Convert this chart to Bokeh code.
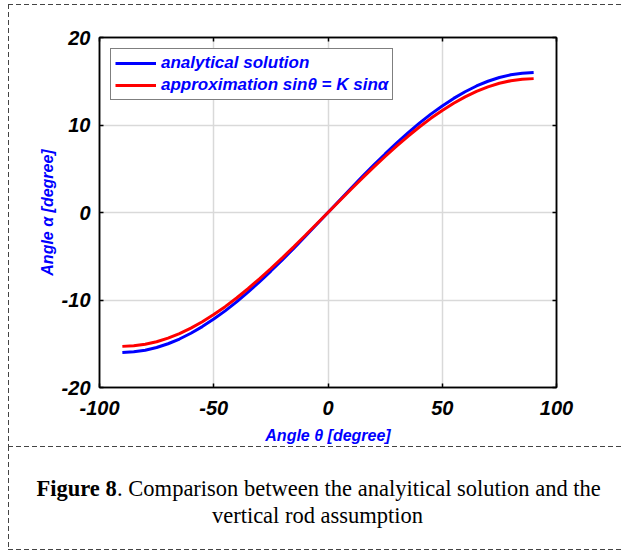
from bokeh.plotting import figure
from bokeh.layouts import column
from bokeh.models import Range1d, FixedTicker, LinearAxis, Label, Legend, LegendItem
from bokeh.embed import file_html
from bokeh.resources import INLINE

# ---- data ----
theta = [-90, -85, -80, -75, -70, -65, -60, -55, -50, -45, -40, -35, -30, -25, -20, -15, -10, -5,
         0, 5, 10, 15, 20, 25, 30, 35, 40, 45, 50, 55, 60, 65, 70, 75, 80, 85, 90]
alpha_analytical = [-15.99, -15.92, -15.74, -15.43, -15.00, -14.46, -13.80, -13.04, -12.18, -11.24,
                    -10.21, -9.10, -7.92, -6.69, -5.41, -4.10, -2.75, -1.38,
                    0.0, 1.38, 2.75, 4.10, 5.41, 6.69, 7.92, 9.10, 10.21, 11.24,
                    12.18, 13.04, 13.80, 14.46, 15.00, 15.43, 15.74, 15.92, 15.99]
alpha_approx = [-15.30, -15.24, -15.06, -14.77, -14.36, -13.84, -13.21, -12.48, -11.66, -10.76,
                -9.77, -8.71, -7.58, -6.40, -5.18, -3.92, -2.63, -1.32,
                0.0, 1.32, 2.63, 3.92, 5.18, 6.40, 7.58, 8.71, 9.77, 10.76,
                11.66, 12.48, 13.21, 13.84, 14.36, 14.77, 15.06, 15.24, 15.30]
x_ticks = [-100, -50, 0, 50, 100]
x_tick_labels = ["-100", "-50", "0", "50", "100"]
y_ticks = [-20, -10, 0, 10, 20]
y_tick_labels = ["-20", "-10", "0", "10", "20"]
legend_labels = ["analytical solution", "approximation sin\u03b8 = K sin\u03b1"]
x_label = "Angle \u03b8 [degree]"
y_label = "Angle \u03b1 [degree]"
caption_bold = "Figure 8"
caption_rest = ". Comparison between the analyitical solution and the"
caption_line2 = "vertical rod assumption"

W = 621
H1, H2 = 446, 106
FL, FR, FT, FB = 99, 65, 37, 57

DASH = "#444444"
def hdash(x, y, length):
    return (f"repeating-linear-gradient(to right, {DASH} 0px, {DASH} 5px, transparent 5px, transparent 8px) "
            f"{x}px {y}px / {length}px 1px no-repeat")
def vdash(x, y, length):
    return (f"repeating-linear-gradient(to bottom, {DASH} 0px, {DASH} 5px, transparent 5px, transparent 8px) "
            f"{x}px {y}px / 1px {length}px no-repeat")

p = figure(width=W, height=H1, output_backend="svg", toolbar_location=None,
           x_range=Range1d(-100, 100), y_range=Range1d(-20, 20),
           min_border_left=FL, min_border_right=FR, min_border_top=FT, min_border_bottom=FB,
           background_fill_color="white", border_fill_alpha=0,
           styles={"background": ", ".join([hdash(8, 4, W - 8), vdash(8, 4, H1 - 4)])})
p.frame_align = False
p.outline_line_color = "black"
p.outline_line_width = 1.5

SANS = "Liberation Sans"
for ax in (p.xaxis[0], p.yaxis[0]):
    ax.major_label_text_font = SANS
    ax.major_label_text_font_style = "bold italic"
    ax.major_label_text_font_size = "20px"
    ax.major_label_text_color = "black"
    ax.axis_label_text_font = SANS
    ax.axis_label_text_font_style = "bold italic"
    ax.axis_label_text_font_size = "16px"
    ax.axis_label_text_color = "blue"
    ax.major_tick_in = 4
    ax.major_tick_out = 0
    ax.minor_tick_line_color = None
    ax.axis_line_color = "black"
    ax.axis_line_width = 1.5
    ax.major_tick_line_width = 1.5

p.xaxis[0].ticker = FixedTicker(ticks=x_ticks)
p.yaxis[0].ticker = FixedTicker(ticks=y_ticks)
p.xaxis[0].major_label_overrides = dict(zip(x_ticks, x_tick_labels))
p.yaxis[0].major_label_overrides = dict(zip(y_ticks, y_tick_labels))
p.xaxis[0].axis_label = x_label
p.yaxis[0].axis_label = y_label
p.xaxis[0].major_label_standoff = 13
p.yaxis[0].major_label_standoff = 9
p.xaxis[0].axis_label_standoff = 9
p.yaxis[0].axis_label_standoff = 3

for side, tk in (("above", x_ticks), ("right", y_ticks)):
    ax = LinearAxis(ticker=FixedTicker(ticks=tk), major_tick_in=4, major_tick_out=0,
                    minor_tick_line_color=None, axis_line_color="black", axis_line_width=1.5,
                    major_tick_line_width=1.5, major_label_text_font_size="1px",
                    major_label_text_alpha=0, major_label_standoff=0)
    p.add_layout(ax, side)

p.xgrid.ticker = FixedTicker(ticks=x_ticks)
p.ygrid.ticker = FixedTicker(ticks=y_ticks)
p.grid.grid_line_color = "#d9d9d9"
p.grid.grid_line_width = 1.5

r1 = p.line(theta, alpha_analytical, line_color="#0000ff", line_width=3)
r2 = p.line(theta, alpha_approx, line_color="#ff0000", line_width=3)

legend = Legend(items=[LegendItem(label=legend_labels[0], renderers=[r1]),
                       LegendItem(label=legend_labels[1], renderers=[r2])],
                location="top_left", margin=11, padding=4, spacing=2,
                glyph_width=41, glyph_height=20, label_height=20, label_standoff=5,
                label_text_font=SANS, label_text_font_style="bold italic",
                label_text_font_size="17px", label_text_color="blue",
                border_line_color="black", border_line_width=1,
                background_fill_color="white", background_fill_alpha=1)
p.add_layout(legend)

# ---- caption panel (frame covers the whole panel; coordinates = pixels from its top-left) ----
c = figure(width=W, height=H2, output_backend="svg", toolbar_location=None,
           x_range=Range1d(0, W), y_range=Range1d(H2, 0),
           x_axis_type=None, y_axis_type=None,
           min_border_left=0, min_border_right=0, min_border_top=0, min_border_bottom=0,
           background_fill_alpha=0, border_fill_alpha=0, outline_line_color=None,
           styles={"background": ", ".join([hdash(8, 0, W - 8), vdash(8, 0, H2 - 3), hdash(8, H2 - 3, W - 8)])})
c.frame_align = False
c.grid.visible = False

SERIF = "Liberation Serif"
FS = 22.5
x_start = 36
bold_w = 3.583 * FS
c.add_layout(Label(x=x_start, y=42, text=caption_bold,
                   text_font=SERIF, text_font_style="bold", text_font_size=f"{FS}px",
                   text_baseline="middle", text_align="left", text_color="black"))
c.add_layout(Label(x=x_start + bold_w, y=42, text=caption_rest,
                   text_font=SERIF, text_font_style="normal", text_font_size=f"{FS}px",
                   text_baseline="middle", text_align="left", text_color="black"))
c.add_layout(Label(x=317, y=69, text=caption_line2,
                   text_font=SERIF, text_font_style="normal", text_font_size=f"{FS}px",
                   text_baseline="middle", text_align="center", text_color="black"))

layout = column(p, c, spacing=0)
open("out.html", "w").write(file_html(layout, INLINE))
